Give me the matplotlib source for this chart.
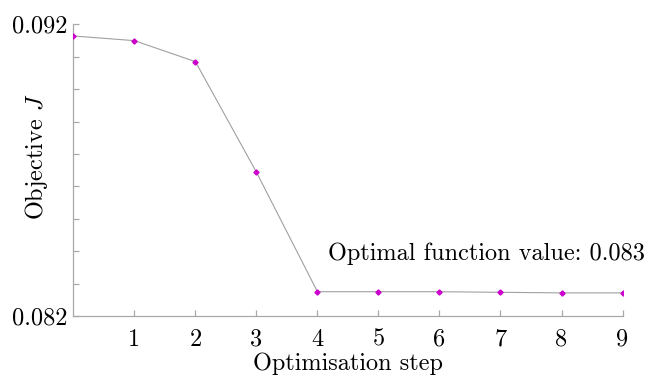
import numpy as np
import matplotlib
matplotlib.use('Agg')
import matplotlib.pyplot as plt

plt.rcParams['font.family'] = 'cmr10'
plt.rcParams['mathtext.fontset'] = 'cm'
plt.rcParams['axes.formatter.use_mathtext'] = True

# objective value at each optimisation step
steps = [0, 1, 2, 3, 4, 5, 6, 7, 8, 9]
objective = [0.09160, 0.09144, 0.09072, 0.08693, 0.08283,
             0.08283, 0.08283, 0.08281, 0.08279, 0.08279]
xtick_labels = ['1', '2', '3', '4', '5', '6', '7', '8', '9']
optimal_label = 'Optimal function value: 0.083'

axis_grey = '#a8a8a8'
fs = 17.5

fig = plt.figure(figsize=(6.61, 3.77), dpi=100)
ax = fig.add_axes([0.111, 0.162, 0.8308, 0.7735])

ax.plot(steps, objective, color='#a0a0a0', lw=0.8, zorder=2)
ax.plot(steps, objective, ls='none', marker='D', ms=2.6,
        color='#cc00cc', mec='#cc00cc', zorder=3)

ax.set_xlim(0, 9)
ax.set_ylim(0.082, 0.092)

ax.set_xticks(steps[1:])
ax.set_xticklabels(xtick_labels)
yt = np.linspace(0.082, 0.092, 10)
ax.set_yticks(yt)
ax.set_yticklabels(['0.082'] + [''] * 8 + ['0.092'])

for s in ['top', 'right']:
    ax.spines[s].set_visible(False)
for s in ['left', 'bottom']:
    ax.spines[s].set_color(axis_grey)
    ax.spines[s].set_linewidth(0.9)

ax.tick_params(axis='x', direction='in', length=4.5, width=0.9,
               color=axis_grey, labelsize=fs, pad=9)
ax.tick_params(axis='y', direction='in', length=4.5, width=0.9,
               color=axis_grey, labelsize=fs, pad=4)

ax.set_xlabel('Optimisation step', fontsize=fs, labelpad=1.5)
ax.set_ylabel(r'Objective $J$', fontsize=fs)
ax.yaxis.set_label_coords(-0.042, 0.545)

ax.text(4.17, 0.08392, optimal_label, fontsize=fs, ha='left', va='baseline')

fig.savefig('out.png', dpi=100)
